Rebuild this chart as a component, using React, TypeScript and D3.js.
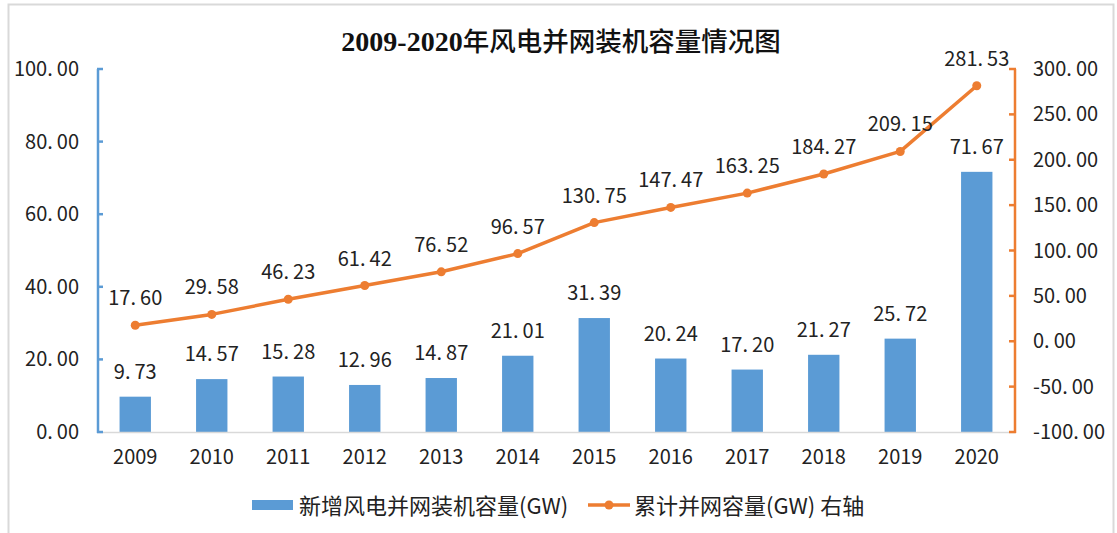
import React from "react";
import * as d3 from "d3";

const years = ["2009","2010","2011","2012","2013","2014","2015","2016","2017","2018","2019","2020"];
const newCapacity = [9.73,14.57,15.28,12.96,14.87,21.01,31.39,20.24,17.20,21.27,25.72,71.67];
const cumulativeCapacity = [17.60,29.58,46.23,61.42,76.52,96.57,130.75,147.47,163.25,184.27,209.15,281.53];
const leftTicks = [0,20,40,60,80,100];
const rightTicks = [-100,-50,0,50,100,150,200,250,300];
const titleNum = "2009-2020";
const titleCn = "年风电并网装机容量情况图";
const legendBar = "新增风电并网装机容量(GW)";
const legendLine = "累计并网容量(GW) 右轴";

const W = 1117, H = 533;
const L = 97, R = 1015, T = 69, B = 432;
const BLUE = "#5B9BD5", ORANGE = "#ED7D31", TXT = "#222";
const NUMFONT = "'Noto Sans CJK SC', 'Noto Sans', sans-serif";

function Num({ v, x, y, anchor = "middle", size = 20 }: any) {
  const [a, b] = v.toFixed(2).split(".");
  return (
    <text x={x} y={y} textAnchor={anchor} fontFamily={NUMFONT} fontSize={size} fill={TXT}>
      {a}.<tspan dx={4}>{b}</tspan>
    </text>
  );
}

export default function App() {
  const x = d3.scalePoint<string>().domain(years).range([L, R]).padding(0.5);
  const yL = d3.scaleLinear().domain([0, 100]).range([B, T]);
  const yR = d3.scaleLinear().domain([-100, 300]).range([B, T]);
  const bw = x.step() * 0.41;
  const line = d3.line<number>().x((_, i) => x(years[i])!).y((d) => yR(d));

  return (
    <svg width={W} height={H} style={{ position: "absolute", left: 0, top: 0, background: "#fff" }}>
      <rect x={8.5} y={4.5} width={1105} height={545} fill="#fff" stroke="#d9d9d9" strokeWidth={2} />
      <text x={561} y={51} textAnchor="middle" fill="#111">
        <tspan fontFamily="'Liberation Serif', serif" fontWeight="bold" fontSize={28}>{titleNum}</tspan>
        <tspan fontFamily="'Noto Sans CJK SC', sans-serif" fontWeight={500} fontSize={26.5}>{titleCn}</tspan>
      </text>

      {/* bars */}
      {newCapacity.map((v, i) => (
        <rect key={"b" + i} x={x(years[i])! - bw / 2} y={yL(v)} width={bw} height={yL(0) - yL(v)} fill={BLUE} />
      ))}

      {/* baseline */}
      <line x1={L} x2={R} y1={B + 0.5} y2={B + 0.5} stroke="#d9d9d9" strokeWidth={1.5} />

      {/* left axis */}
      <line x1={L + 1} x2={L + 1} y1={T} y2={B + 1} stroke={BLUE} strokeWidth={2.5} />
      {leftTicks.map((t) => (
        <g key={"lt" + t}>
          <line x1={L} x2={L + 6} y1={yL(t)} y2={yL(t)} stroke={BLUE} strokeWidth={2.5} />
          <Num v={t} x={79} y={yL(t) + 7} anchor="end" />
        </g>
      ))}

      {/* right axis */}
      <line x1={R} x2={R} y1={T} y2={B + 1} stroke={ORANGE} strokeWidth={2.5} />
      {rightTicks.map((t) => (
        <g key={"rt" + t}>
          <line x1={R - 6} x2={R + 1} y1={yR(t)} y2={yR(t)} stroke={ORANGE} strokeWidth={2.5} />
          <Num v={t} x={1033} y={yR(t) + 7} anchor="start" />
        </g>
      ))}

      {/* x labels */}
      {years.map((yv) => (
        <text key={"x" + yv} x={x(yv)} y={464} textAnchor="middle" fontFamily={NUMFONT} fontSize={20} fill={TXT}>
          {yv}
        </text>
      ))}

      {/* line */}
      <path d={line(cumulativeCapacity)!} fill="none" stroke={ORANGE} strokeWidth={3.5} strokeLinejoin="round" />
      {cumulativeCapacity.map((v, i) => (
        <circle key={"c" + i} cx={x(years[i])} cy={yR(v)} r={4.5} fill={ORANGE} />
      ))}

      {/* labels */}
      {newCapacity.map((v, i) => (
        <Num key={"bl" + i} v={v} x={x(years[i])} y={yL(v) - 18} />
      ))}
      {cumulativeCapacity.map((v, i) => (
        <Num key={"ll" + i} v={v} x={x(years[i])} y={yR(v) - 20} />
      ))}

      {/* legend */}
      <rect x={252} y={500} width={41} height={10} fill={BLUE} />
      <text x={299} y={514} fontFamily="'Noto Sans CJK SC', sans-serif" fontSize={22} fill={TXT}>{legendBar}</text>
      <line x1={588} x2={630} y1={505} y2={505} stroke={ORANGE} strokeWidth={3.5} />
      <circle cx={609} cy={505} r={4.5} fill={ORANGE} />
      <text x={634} y={514} fontFamily="'Noto Sans CJK SC', sans-serif" fontSize={22} fill={TXT}>{legendLine}</text>
    </svg>
  );
}
